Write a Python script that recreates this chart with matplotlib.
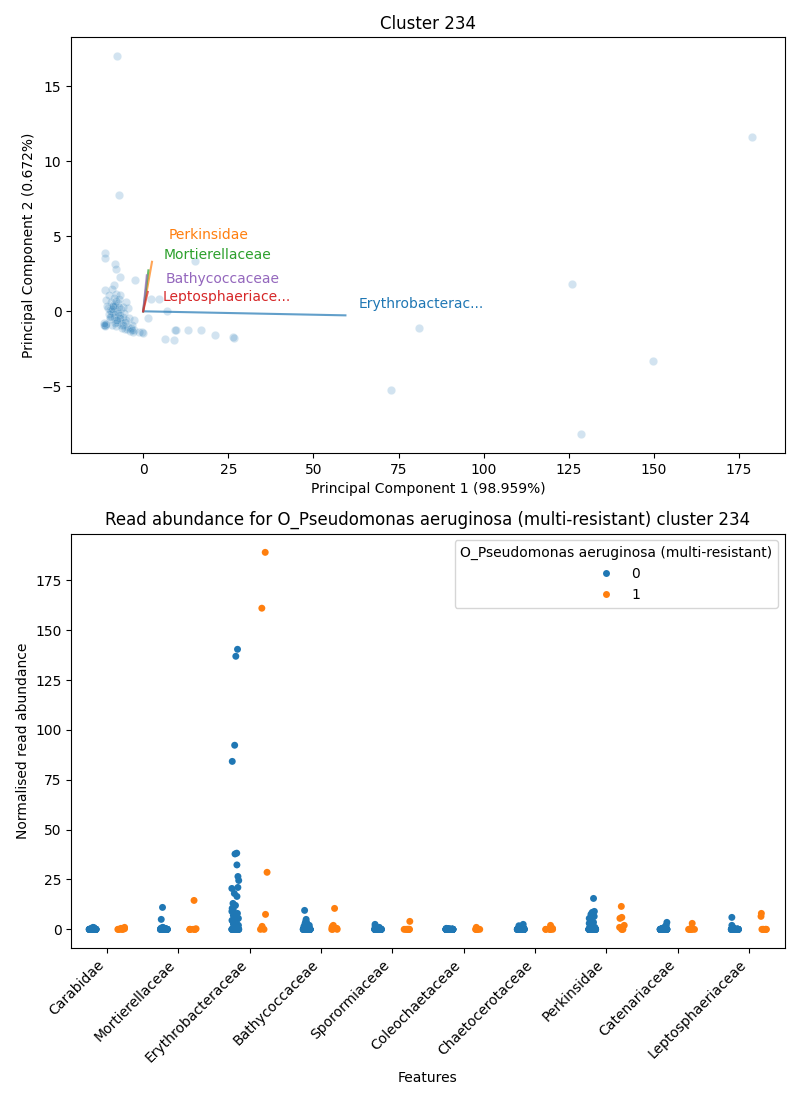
import numpy as np
import pandas as pd
import matplotlib
matplotlib.use("Agg")
import matplotlib.pyplot as plt
import seaborn as sns

# ---------------- PCA data ----------------
pc1 = [-11.1, -11.1, -8.4, -8.1, -6.9, -2.25, -8.6, -11.3, -9.2, -7.9,
       -9.9, -6.9, -10.8, -9.4, -8.5, -10.2, -8.8, -7.3, -5.9, -4.4,
       -5.6, -4.1, -2.6, -7.0, -6.4, -4.4, -2.6, -1.2, -0.3, -11.3,
       -11.3, -11.3, 2.3, 4.8, 1.55, 7.0, 9.7, -0.1, 9.5, 13.1,
       17.0, 21.2, 26.7, 26.5, 6.4, 9.2, 15.2, -7.6, -7.0, 178.9,
       125.9, 81.1, 149.6, 72.9, 128.5, -9.6, -8.9, -9.3, -8.2, -7.6,
       -9.8, -8.6, -7.8, -9.0, -6.3, -5.1, -3.6, -10.5, -7.2, -6.0,
       -8.3, -9.5, -4.9, -3.2, -6.6, -7.9, -10.0, -5.4, -8.0, -6.8,
       -8.7, -8.1, -9.1, -7.4, -6.7, -8.4, -5.8, -4.6, -3.9, -2.9,
       -7.7, -9.7, -8.9, -6.2, -5.2, -3.4, -10.9, -11.6, -11.5, -7.1]
pc2 = [3.89, 3.58, 3.13, 2.85, 2.29, 2.07, 1.78, 1.45, 1.47, 1.18,
       1.07, 1.07, 0.73, 0.6, 0.27, 0.2, -0.07, 0.53, 0.27, 0.2,
       -0.13, -0.47, -0.6, -0.47, -0.93, -1.07, -1.27, -1.4, -1.4, -0.93,
       -0.9, -0.95, 0.85, 0.85, -0.42, 0.02, -1.22, -1.44, -1.22, -1.27,
       -1.22, -1.6, -1.75, -1.72, -1.82, -1.93, 3.35, 17.0, 7.73, 11.6,
       1.8, -1.13, -3.33, -5.27, -8.2, 0.1, 0.4, -0.3, -0.2, 0.0,
       -0.5, 0.9, -0.7, -0.9, -0.8, -0.6, -1.1, 0.35, 0.8, -0.35,
       0.45, 0.05, 0.6, -0.9, 0.15, -1.0, -0.15, -1.2, 0.7, -0.25,
       -0.35, -0.55, 0.15, -0.1, -0.45, -0.75, -0.9, -1.2, -1.3, -1.35,
       -0.6, -0.4, 0.35, -1.1, -0.7, -1.25, -0.85, -0.88, -0.8, 0.3]

load_names = ["Erythrobacterac...", "Perkinsidae", "Mortierellaceae",
              "Bathycoccaceae", "Leptosphaeriace..."]
load_x = [59.4, 2.6, 1.55, 1.08, 1.37]
load_y = [-0.27, 3.3, 2.73, 2.4, 1.29]
label_x = [63.2, 7.6, 5.9, 6.7, 5.6]
label_y = [0.47, 5.07, 3.73, 2.13, 0.93]
load_colors = ["tab:blue", "tab:orange", "tab:green", "tab:purple", "tab:red"]

# ---------------- Strip data ----------------
features = ["Carabidae", "Mortierellaceae", "Erythrobacteraceae", "Bathycoccaceae",
            "Sporormiaceae", "Coleochaetaceae", "Chaetocerotaceae", "Perkinsidae",
            "Catenariaceae", "Leptosphaeriaceae"]
N0 = 70
N1 = 8
# non-zero values read for group "0" and "1" (the remaining samples are 0)
vals0 = {
    "Carabidae": [1.0, 0.8, 0.5, 0.3, 0.2, 0.6],
    "Mortierellaceae": [11.0, 5.0, 1.0, 0.8, 0.5, 0.4, 0.2, 0.6],
    "Erythrobacteraceae": [140.4, 136.9, 92.3, 84.2, 38.2, 37.8, 32.3, 26.5, 24.5,
                           21.0, 20.5, 18.0, 16.5, 13.0, 12.0, 10.5, 10.0, 9.0,
                           8.0, 7.0, 6.0, 5.5, 5.0, 4.5, 4.0, 3.5, 3.0, 2.5, 2.0,
                           1.5, 1.0, 0.8, 0.5, 0.3],
    "Bathycoccaceae": [9.5, 5.0, 4.0, 3.5, 3.0, 2.5, 2.0, 1.5, 1.0, 0.8, 0.5],
    "Sporormiaceae": [2.5, 1.5, 1.0, 0.5, 0.3],
    "Coleochaetaceae": [0.5, 0.3, 0.2],
    "Chaetocerotaceae": [2.5, 1.8, 1.0, 0.6, 0.3],
    "Perkinsidae": [15.5, 9.0, 8.5, 7.5, 6.5, 5.5, 5.0, 4.0, 3.5, 3.0, 2.5, 2.0,
                    1.5, 1.0, 0.8, 0.5],
    "Catenariaceae": [3.5, 2.0, 1.5, 1.0, 0.5],
    "Leptosphaeriaceae": [6.0, 2.0, 1.0, 0.5],
}
vals1 = {
    "Carabidae": [1.0, 0.5, 0.3],
    "Mortierellaceae": [14.5, 0.3],
    "Erythrobacteraceae": [189.0, 161.0, 28.6, 7.5, 1.5, 0.5],
    "Bathycoccaceae": [10.5, 2.0, 1.5, 1.0, 0.5],
    "Sporormiaceae": [4.0],
    "Coleochaetaceae": [1.0],
    "Chaetocerotaceae": [2.0, 0.5],
    "Perkinsidae": [11.5, 6.0, 5.5, 2.0, 1.0],
    "Catenariaceae": [3.0, 0.5],
    "Leptosphaeriaceae": [8.0, 6.5],
}

rows = []
for f in features:
    v0 = vals0[f] + [0.0] * (N0 - len(vals0[f]))
    v1 = vals1[f] + [0.0] * (N1 - len(vals1[f]))
    for v in v0:
        rows.append((f, v, "0"))
    for v in v1:
        rows.append((f, v, "1"))
df = pd.DataFrame(rows, columns=["Features", "value", "group"])

# ---------------- Plot ----------------
fig = plt.figure(figsize=(8, 11), dpi=100)
ax1 = fig.add_axes([0.089, 0.588, 0.892, 0.378])
ax2 = fig.add_axes([0.089, 0.138, 0.892, 0.377])

sns.scatterplot(x=pc1, y=pc2, alpha=0.2, ax=ax1, color="tab:blue")
for i in range(len(load_names)):
    ax1.plot([0, load_x[i]], [0, load_y[i]], color=load_colors[i], alpha=0.7, lw=1.5)
    ax1.text(label_x[i], label_y[i], load_names[i], color=load_colors[i],
             ha="left", va="center", fontsize=10)
ax1.set_title("Cluster 234")
ax1.set_xlabel("Principal Component 1 (98.959%)")
ax1.set_ylabel("Principal Component 2 (0.672%)")

np.random.seed(0)
sns.stripplot(data=df, x="Features", y="value", hue="group", hue_order=["0", "1"],
              order=features, dodge=True, palette=["tab:blue", "tab:orange"], ax=ax2)
ax2.set_title("Read abundance for O_Pseudomonas aeruginosa (multi-resistant) cluster 234")
ax2.set_xlabel("Features")
ax2.set_ylabel("Normalised read abundance")
ax2.set_yticks([0, 25, 50, 75, 100, 125, 150, 175])
plt.setp(ax2.get_xticklabels(), rotation=45, ha="right")
ax2.legend(title="O_Pseudomonas aeruginosa (multi-resistant)", loc="upper right")

fig.savefig("out.png", dpi=100)
